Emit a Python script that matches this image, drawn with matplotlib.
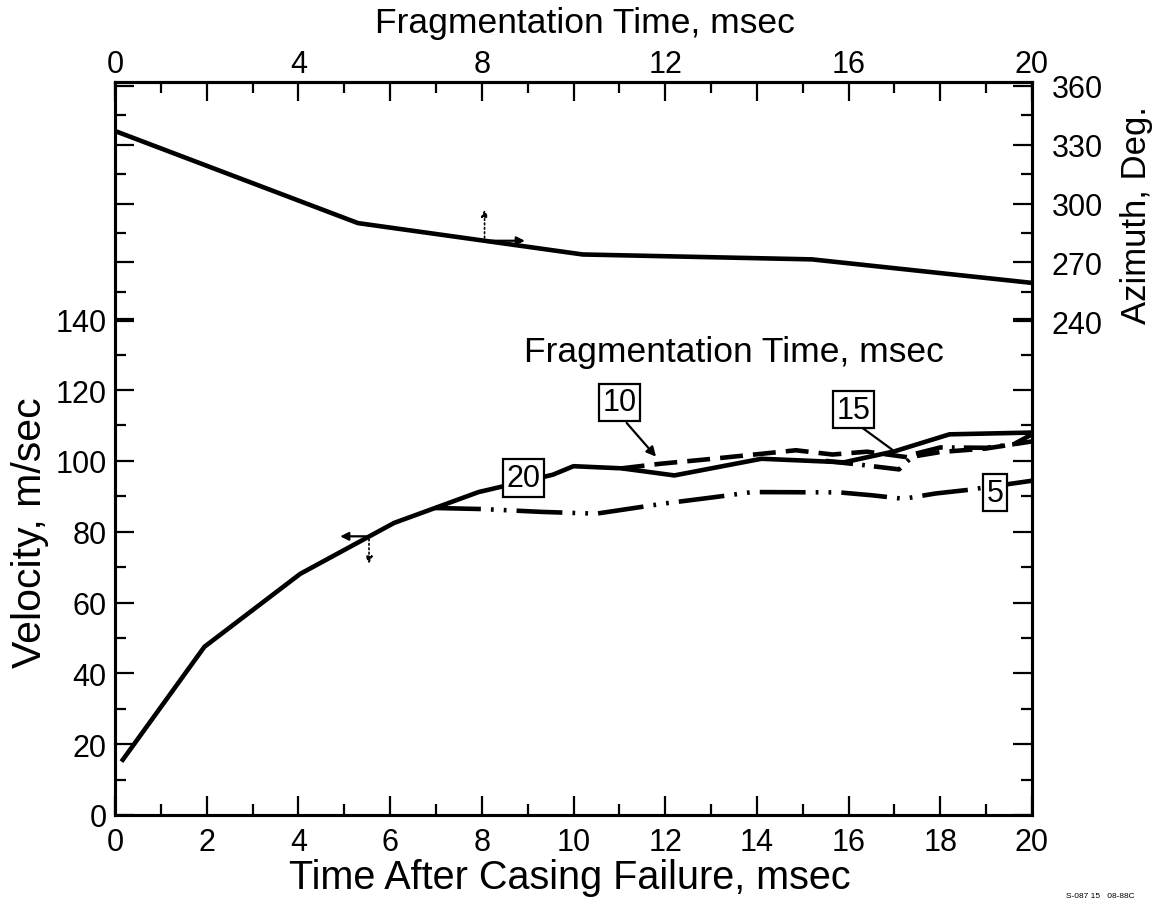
import matplotlib
matplotlib.use("Agg")
import matplotlib.pyplot as plt
from matplotlib.ticker import MultipleLocator, FixedLocator, FuncFormatter

plt.rcParams['font.family'] = ['Liberation Sans', 'DejaVu Sans']

# ---------------- data ----------------
# Velocity curves, labelled by fragmentation time (msec)
t20 = [0.17, 1.95, 4.04, 6.09, 6.98, 7.93, 9.55, 10.0, 11.05, 12.2, 14.1, 15.9, 17.0, 18.2, 20.0]
v20 = [15.6, 47.5, 68.1, 82.5, 86.7, 91.2, 96.1, 98.5, 97.9, 95.9, 100.6, 99.6, 102.7, 107.5, 108.0]

t10 = [11.05, 11.9, 12.8, 14.1, 14.85, 15.65, 16.4, 17.3, 18.0, 19.0, 20.0]
v10 = [97.9, 99.2, 100.3, 102.0, 103.0, 101.8, 102.6, 101.0, 102.5, 103.5, 105.5]

t15 = [15.5, 16.2, 17.1, 17.45, 18.0, 19.0, 19.6, 20.0]
v15 = [100.0, 99.0, 97.6, 102.0, 103.8, 103.7, 104.7, 107.5]

t5 = [6.98, 8.0, 9.3, 10.5, 12.0, 13.1, 13.9, 15.8, 16.5, 17.2, 17.9, 18.6, 20.0]
v5 = [86.7, 86.4, 85.6, 85.1, 88.0, 89.8, 91.2, 91.1, 90.3, 89.3, 90.8, 91.8, 94.4]

# Azimuth vs fragmentation time (top / right axes)
frag_t = [0.0, 5.3, 10.2, 15.2, 20.0]
azimuth = [337.0, 290.0, 274.0, 271.5, 259.5]

bottom_ticks = list(range(0, 21, 2))
top_label_ticks = list(range(0, 21, 4))
vel_ticks = list(range(0, 141, 20))
az_ticks = list(range(240, 361, 30))

# ---------------- figure ----------------
W, H = 1159, 903
fig = plt.figure(figsize=(W / 100, H / 100), dpi=100)
ax = fig.add_axes([115 / W, 1 - 816 / H, 917 / W, 733 / H])
ax.set_xlim(0, 20)
ax.set_ylim(0, 207)

ax2 = ax.twinx()
ax2.set_ylim(-12, 362)

lw_curve = 3.3
ax.plot(t20, v20, color='black', lw=lw_curve, solid_joinstyle='round', zorder=3)
ax.plot(t10, v10, color='black', lw=lw_curve, linestyle=(0, (5, 2.2)), zorder=3)
ax.plot(t15, v15, color='black', lw=lw_curve, linestyle=(0, (6, 2, 0.6, 2)), zorder=3)
ax.plot(t5, v5, color='black', lw=lw_curve, linestyle=(0, (10, 2.2, 0.6, 2.2, 0.6, 2.2)), zorder=3)
ax2.plot(frag_t, azimuth, color='black', lw=lw_curve, solid_joinstyle='round')

# boxed curve labels
box = dict(boxstyle='square,pad=0.12', fc='white', ec='black', lw=1.6)
ax.text(8.91, 95.2, '20', fontsize=22, ha='center', va='center', bbox=box, zorder=5)
ax.text(11.0, 116.5, '10', fontsize=22, ha='center', va='center', bbox=box, zorder=5)
ax.text(16.1, 114.5, '15', fontsize=22, ha='center', va='center', bbox=box, zorder=5)
ax.text(19.2, 91.0, '5', fontsize=22, ha='center', va='center', bbox=box, zorder=5)

# pointers from boxes
ax.annotate('', xy=(11.84, 100.6), xytext=(11.12, 111.3),
            arrowprops=dict(arrowstyle='-|>', lw=1.6, color='black', mutation_scale=14))
ax.annotate('', xy=(17.0, 102.7), xytext=(16.25, 109.8),
            arrowprops=dict(arrowstyle='-', lw=1.6, color='black'))

# axis indicator arrows (velocity curve -> left axis)
ax.annotate('', xy=(4.85, 78.7), xytext=(5.54, 78.7),
            arrowprops=dict(arrowstyle='-|>', lw=1.6, color='black', mutation_scale=12))
ax.annotate('', xy=(5.54, 70.2), xytext=(5.54, 78.7),
            arrowprops=dict(arrowstyle='-|>', lw=1.2, ls=':', color='black', mutation_scale=10))
# azimuth curve -> right axis
ax2.annotate('', xy=(9.0, 281.0), xytext=(8.06, 281.0),
             arrowprops=dict(arrowstyle='-|>', lw=1.6, color='black', mutation_scale=12))
ax2.annotate('', xy=(8.06, 298.3), xytext=(8.06, 281.0),
             arrowprops=dict(arrowstyle='-|>', lw=1.2, ls=':', color='black', mutation_scale=10))

# ---------------- axes styling ----------------
for a in (ax, ax2):
    for s in a.spines.values():
        s.set_linewidth(2.2)

ax.xaxis.set_major_locator(FixedLocator(bottom_ticks))
ax.xaxis.set_minor_locator(MultipleLocator(1))
ax.yaxis.set_major_locator(FixedLocator(vel_ticks))
ax.yaxis.set_minor_locator(FixedLocator(list(range(10, 131, 20))))
ax.tick_params(axis='both', which='major', direction='in', length=14, width=1.6,
               labelsize=22, right=True)
ax.tick_params(axis='both', which='minor', direction='in', length=8, width=1.6, right=True)
ax.tick_params(axis='x', which='major', pad=9)
ax.tick_params(axis='y', which='major', pad=6)

ax2.yaxis.set_ticks_position('both')
ax2.yaxis.set_major_locator(FixedLocator(az_ticks))
ax2.yaxis.set_minor_locator(FixedLocator(list(range(255, 346, 30))))
ax2.tick_params(axis='y', which='major', direction='in', length=14, width=1.6,
                labelsize=22, labelleft=False, labelright=True, pad=14)
ax2.tick_params(axis='y', which='minor', direction='in', length=8, width=1.6)

top = ax.secondary_xaxis('top')
top.xaxis.set_major_locator(FixedLocator(bottom_ticks))
top.xaxis.set_minor_locator(MultipleLocator(1))
top.xaxis.set_major_formatter(FuncFormatter(lambda v, p: f"{int(round(v))}" if int(round(v)) in top_label_ticks else ""))
top.tick_params(axis='x', which='major', direction='in', length=14, width=1.6, labelsize=22, pad=2)
top.tick_params(axis='x', which='minor', direction='in', length=8, width=1.6)
top.spines['top'].set_linewidth(2.2)

# axis titles
ax.set_xlabel('Time After Casing Failure, msec', fontsize=28.5)
ax.xaxis.set_label_coords(0.496, -0.058)
ax.set_ylabel('Velocity, m/sec', fontsize=29.5)
ax.yaxis.set_label_coords(-0.072, 0.386)
ax2.set_ylabel('Azimuth, Deg.', fontsize=25)
ax2.yaxis.set_label_coords(1.096, 0.82)

# top axis title (Fragmentation Time)
fig.text(585 / W, 1 - 40 / H, 'Fragmentation Time, msec', fontsize=25.5, ha='center', va='bottom')

fig.text(734 / W, 1 - 353 / H, 'Fragmentation Time, msec', fontsize=25.5, ha='center', va='center')
fig.text(1100 / W, 1 - 897 / H, 'S-087 15   08-88C', fontsize=6, ha='center', va='center')

fig.savefig('out.png', dpi=100, facecolor='white')
